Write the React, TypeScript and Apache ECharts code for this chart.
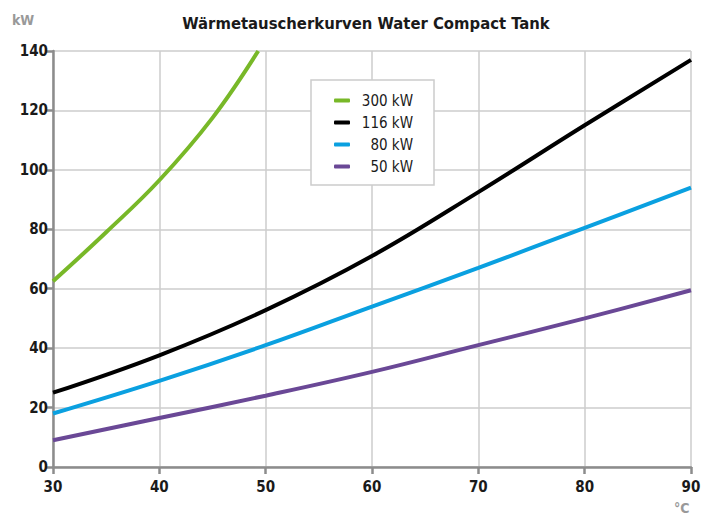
import React, { useEffect, useRef } from "react";
import * as echarts from "echarts";

const title = "Wärmetauscherkurven Water Compact Tank";
const seriesNames = ["300 kW", "116 kW", "80 kW", "50 kW"];
const colors = ["#78b828", "#000000", "#0aa0e0", "#6a4896"];
const green300: [number, number][] = [[30, 62.5], [35, 79], [40, 96.5], [45, 117.5], [49.3, 140]];
const black116: [number, number][] = [[30, 25], [40, 37.6], [50, 52.8], [60, 71], [70, 92.5], [80, 115], [90, 137]];
const blue80: [number, number][] = [[30, 18], [40, 29], [50, 41], [60, 54], [70, 67], [80, 80.5], [90, 94]];
const purple50: [number, number][] = [[30, 9], [40, 16.5], [50, 24], [60, 32], [70, 41], [80, 50], [90, 59.5]];

const FONT = "DejaVu Sans Condensed";

export default function App() {
  const ref = useRef<HTMLDivElement>(null);
  useEffect(() => {
    document.body.style.margin = "0";
    const chart = echarts.init(ref.current!, null, { renderer: "svg" });
    const data = [green300, black116, blue80, purple50];
    chart.setOption({
      animation: false,
      backgroundColor: "#ffffff",
      title: {
        text: title,
        left: 361,
        top: 10,
        textAlign: "center",
        textStyle: { fontFamily: FONT, fontWeight: "bold", fontSize: 16.5, color: "#1a1a1a" },
      },
      legend: {
        orient: "vertical",
        left: 311,
        top: 80,
        padding: [13, 21, 11, 23],
        itemGap: 7,
        itemWidth: 16,
        itemHeight: 4,
        icon: "roundRect",
        borderColor: "#cccccc",
        borderWidth: 1.5,
        backgroundColor: "#ffffff",
        data: seriesNames,
        formatter: (name: string) => `{a|${name}}`,
        textStyle: {
          fontFamily: FONT,
          fontSize: 15,
          color: "#1a1a1a",
          rich: { a: { fontFamily: FONT, fontSize: 15, color: "#1a1a1a", width: 58, align: "right", lineHeight: 15 } },
        },
      },
      grid: { left: 53, right: 18, top: 51, bottom: 52 },
      xAxis: {
        type: "value",
        min: 30,
        max: 90,
        interval: 10,
        axisLine: { show: true, onZero: false, lineStyle: { color: "#8c8c8c", width: 2.5 } },
        axisTick: { show: true, length: 7, lineStyle: { color: "#8c8c8c", width: 2.5 } },
        axisLabel: { margin: 12, fontFamily: FONT, fontWeight: "bold", fontSize: 15, color: "#1a1a1a" },
        splitLine: { show: true, lineStyle: { color: "#cccccc", width: 1.5 } },
      },
      yAxis: {
        type: "value",
        min: 0,
        max: 140,
        interval: 20,
        axisLine: { show: true, lineStyle: { color: "#8c8c8c", width: 2.5 } },
        axisTick: { show: true, length: 7, lineStyle: { color: "#8c8c8c", width: 2.5 } },
        axisLabel: { margin: 5, fontFamily: FONT, fontWeight: "bold", fontSize: 15, color: "#1a1a1a" },
        splitLine: { show: true, lineStyle: { color: "#cccccc", width: 1.5 } },
      },
      graphic: [
        { type: "text", left: 12, top: 13, style: { text: "kW", fill: "#999999", font: `bold 14px "${FONT}"` } },
        { type: "text", left: 674, top: 501, style: { text: "°C", fill: "#999999", font: `bold 14px "${FONT}"` } },
      ],
      series: seriesNames.map((name, i) => ({
        name,
        type: "line",
        data: data[i],
        smooth: 0.4,
        symbol: "none",
        color: colors[i],
        lineStyle: { width: 4, color: colors[i] },
        z: 10 - i,
      })),
    });
    return () => chart.dispose();
  }, []);
  return <div ref={ref} style={{ width: 709, height: 519 }} />;
}
